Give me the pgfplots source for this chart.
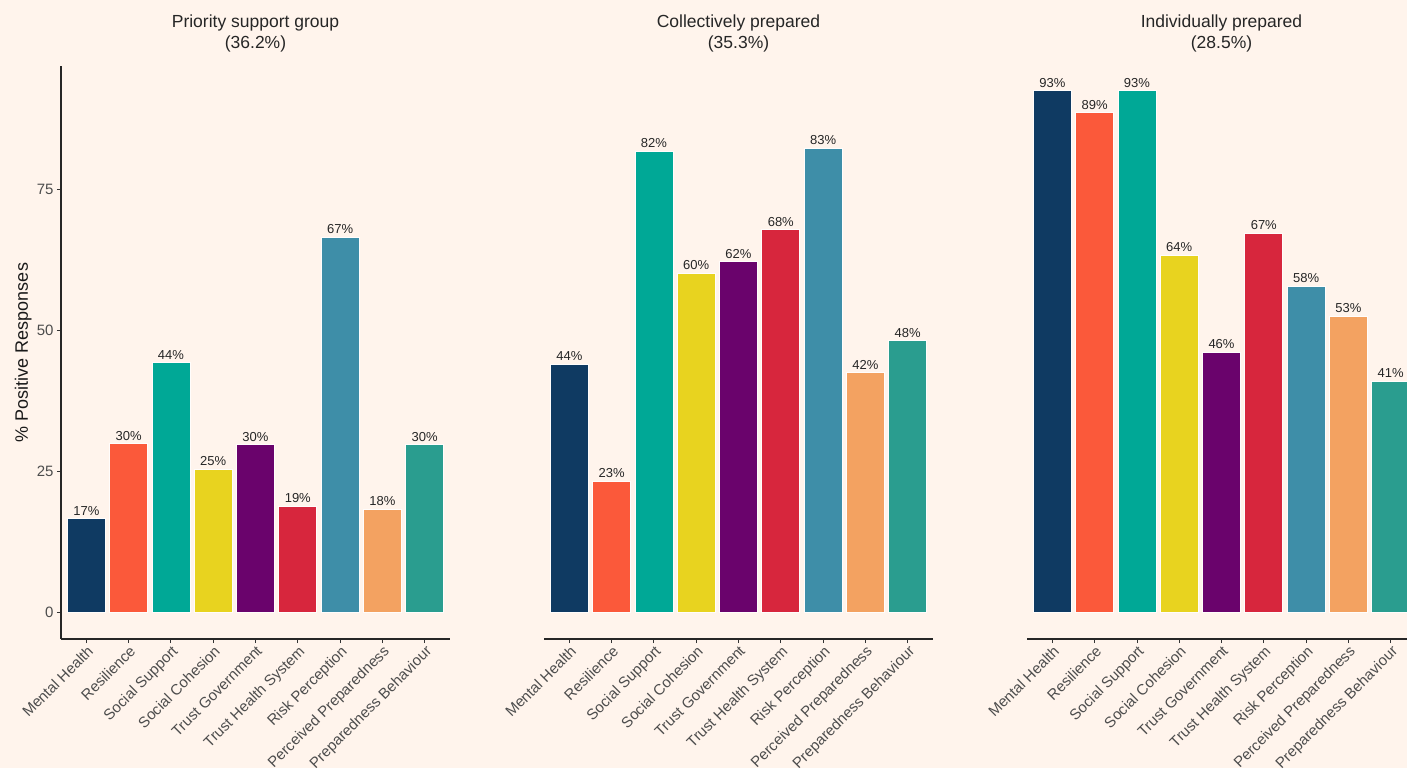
\documentclass[border=0pt]{standalone}
\usepackage{fontspec}
\setmainfont{Liberation Sans}
\usepackage{pgfplots}
\pgfplotsset{compat=1.18}

\definecolor{bg}{RGB}{255,244,236}
\definecolor{cMH}{RGB}{15,58,98}
\definecolor{cRes}{RGB}{251,89,58}
\definecolor{cSS}{RGB}{0,168,150}
\definecolor{cSC}{RGB}{232,211,31}
\definecolor{cTG}{RGB}{106,3,108}
\definecolor{cTHS}{RGB}{215,38,61}
\definecolor{cRP}{RGB}{62,142,168}
\definecolor{cPP}{RGB}{243,162,97}
\definecolor{cPB}{RGB}{42,157,143}
\definecolor{txt}{RGB}{77,77,77}

\pgfplotscreateplotcyclelist{groups}{
  {fill=cMH},{fill=cRes},{fill=cSS},{fill=cSC},{fill=cTG},
  {fill=cTHS},{fill=cRP},{fill=cPP},{fill=cPB}}

\pgfplotsset{
  panel/.style={
    scale only axis, width=389pt, height=573pt,
    xmin=0.4, xmax=9.6, ymin=-4.8, ymax=97,
    ybar, bar width=0.9, bar shift=0pt,
    cycle list name=groups,
    every axis plot/.append style={draw=white!85!bg, line width=0.8pt},
    axis x line*=bottom,
    axis line style={black!85, line width=1.3pt, -},
    tick align=outside, major tick length=4pt,
    tick style={black!80, line width=0.9pt},
    xtick={1,...,9},
    xticklabels={Mental Health,Resilience,Social Support,Social Cohesion,
      Trust Government,Trust Health System,Risk Perception,
      Perceived Preparedness,Preparedness Behaviour},
    xticklabel style={rotate=45, anchor=north east, inner sep=1pt,
      font=\fontsize{15}{17}\selectfont, text=txt},
    /pgf/number format/assume math mode=true,
    yticklabel style={font=\fontsize{15}{17}\selectfont, text=txt},
    nodes near coords, point meta=explicit symbolic,
    every node near coord/.append style={font=\fontsize{13}{15}\selectfont,
      text=black!85, inner sep=1pt, yshift=2pt},
    title style={at={(axis description cs:0.5,1)}, anchor=south, yshift=4pt,
      align=center, font=\fontsize{17.5}{21}\selectfont, text=black!85},
    clip=false,
  }
}

\begin{document}
\begin{tikzpicture}
\fill[bg] (0,0) rectangle (1407pt,768pt);
\path[use as bounding box] (0,0) rectangle (1407pt,768pt);
\clip (0,0) rectangle (1407pt,768pt);

\begin{axis}[panel, at={(61pt,129pt)}, anchor=south west,
  axis y line*=left, ytick={0,25,50,75},
  ylabel={\% Positive Responses},
  ylabel style={at={(axis description cs:-0.097,0.5)}, anchor=center,
    font=\fontsize{18}{20}\selectfont, text=black!90},
  title={Priority support group\\(36.2\%)}]
\addplot coordinates {(1,16.6) [17\%]};
\addplot coordinates {(2,29.9) [30\%]};
\addplot coordinates {(3,44.3) [44\%]};
\addplot coordinates {(4,25.4) [25\%]};
\addplot coordinates {(5,29.7) [30\%]};
\addplot coordinates {(6,18.8) [19\%]};
\addplot coordinates {(7,66.6) [67\%]};
\addplot coordinates {(8,18.3) [18\%]};
\addplot coordinates {(9,29.7) [30\%]};
\end{axis}

\begin{axis}[panel, at={(544pt,129pt)}, anchor=south west,
  axis y line=none, ytick=\empty,
  title={Collectively prepared\\(35.3\%)}]
\addplot coordinates {(1,44.0) [44\%]};
\addplot coordinates {(2,23.2) [23\%]};
\addplot coordinates {(3,81.9) [82\%]};
\addplot coordinates {(4,60.2) [60\%]};
\addplot coordinates {(5,62.2) [62\%]};
\addplot coordinates {(6,67.9) [68\%]};
\addplot coordinates {(7,82.4) [83\%]};
\addplot coordinates {(8,42.5) [42\%]};
\addplot coordinates {(9,48.2) [48\%]};
\end{axis}

\begin{axis}[panel, at={(1027pt,129pt)}, anchor=south west,
  axis y line=none, ytick=\empty,
  title={Individually prepared\\(28.5\%)}]
\addplot coordinates {(1,92.6) [93\%]};
\addplot coordinates {(2,88.7) [89\%]};
\addplot coordinates {(3,92.6) [93\%]};
\addplot coordinates {(4,63.4) [64\%]};
\addplot coordinates {(5,46.2) [46\%]};
\addplot coordinates {(6,67.3) [67\%]};
\addplot coordinates {(7,57.9) [58\%]};
\addplot coordinates {(8,52.6) [53\%]};
\addplot coordinates {(9,41.0) [41\%]};
\end{axis}
\end{tikzpicture}
\end{document}
